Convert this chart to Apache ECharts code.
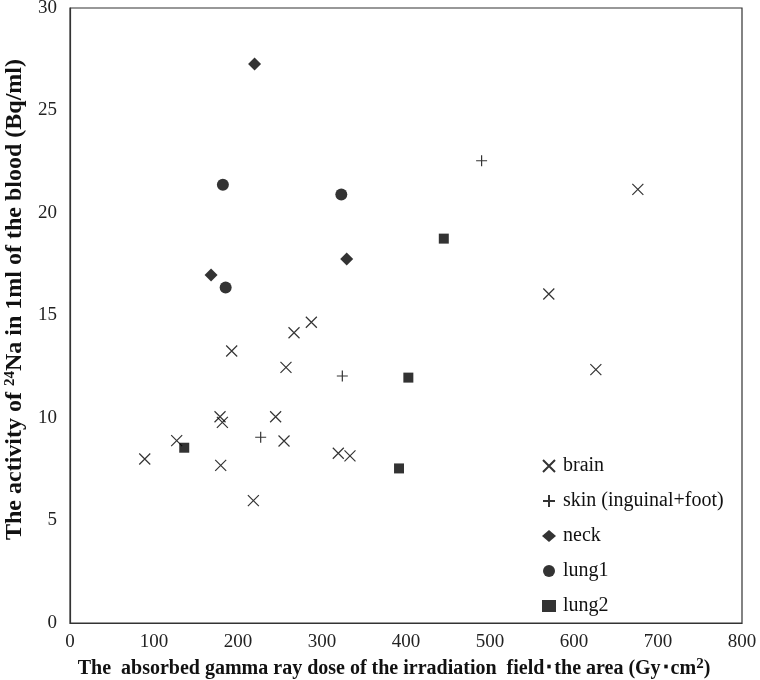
<!DOCTYPE html>
<html>
<head>
<meta charset="utf-8">
<script src="https://cdn.jsdelivr.net/npm/echarts@6/dist/echarts.min.js"></script>
<style>html,body{margin:0;padding:0;background:#fff}#c{width:760px;height:680px}</style>
</head>
<body>
<div id="c"></div>
<script>
var xTicks = [0, 100, 200, 300, 400, 500, 600, 700, 800];
var yTicks = [0, 5, 10, 15, 20, 25, 30];
var seriesNames = ['brain', 'skin (inguinal+foot)', 'neck', 'lung1', 'lung2'];
var brain = [[89,8.0],[127,8.9],[178.6,10.06],[181.4,9.79],[179.4,7.69],[218.3,5.97],[192.5,13.27],[244.8,10.06],[254.8,8.88],[257.1,12.47],[266.7,14.16],[287.3,14.67],[319.4,8.28],[333.3,8.15],[570,16.05],[626,12.36],[676,21.15]];
var skin = [[227,9.06],[324.2,12.05],[490,22.55]];
var neck = [[167.9,16.98],[219.7,27.27],[329.4,17.76]];
var lung1 = [[182,21.38],[185.3,16.37],[323,20.9]];
var lung2 = [[136,8.55],[402.8,11.97],[391.7,7.54],[445,18.75]];

var FONT = '"Liberation Serif", "Times New Roman", serif';
var chart = echarts.init(document.getElementById('c'), null, {renderer: 'canvas'});
var crossPath = 'path://M0,0L10,10M10,0L0,10';
var plusPath = 'path://M5,0L5,10M0,5L10,5';
function strokeStyle() { return {color: 'rgba(0,0,0,0)', borderColor: '#000', borderWidth: 1.2}; }
chart.setOption({
  animation: false,
  backgroundColor: '#fff',
  grid: {left: 70, right: 18, top: 8, bottom: 57, show: true, borderColor: '#333', borderWidth: 1.2, containLabel: false, outerBoundsMode: 'none'},
  legend: {
    orient: 'vertical', left: 537, top: 451, itemGap: 15, itemWidth: 14, itemHeight: 12,
    textStyle: {fontFamily: FONT, fontSize: 20, color: '#111', padding: [0, 0, 0, 2]},
    data: seriesNames
  },
  xAxis: {
    type: 'value', min: xTicks[0], max: xTicks[xTicks.length - 1], interval: 100,
    axisLine: {show: true, lineStyle: {color: '#333', width: 1.2}},
    axisTick: {show: false}, splitLine: {show: false},
    axisLabel: {fontFamily: FONT, fontSize: 19, color: '#222', margin: 10},
    name: 'The  absorbed gamma ray dose of the irradiation  field\uff65the area (Gy\uff65cm{sup|2})',
    nameLocation: 'middle', nameGap: 29,
    nameTextStyle: {fontFamily: FONT, fontSize: 20, fontWeight: 'bold', color: '#111', padding: [0, 24, 0, 0],
      rich: {sup: {fontFamily: FONT, fontSize: 15, fontWeight: 'bold', color: '#111', verticalAlign: 'top', padding: [0,0,8,0]}}}
  },
  yAxis: {
    type: 'value', min: yTicks[0], max: yTicks[yTicks.length - 1], interval: 5,
    axisLine: {show: true, lineStyle: {color: '#333', width: 1.2}},
    axisTick: {show: false}, splitLine: {show: false},
    axisLabel: {fontFamily: FONT, fontSize: 19, color: '#222', margin: 13},
    name: 'The activity of {sup|24}Na in 1ml of the blood (Bq/ml)',
    nameLocation: 'middle', nameGap: 42,
    nameTextStyle: {fontFamily: FONT, fontSize: 24, fontWeight: 'bold', color: '#111', padding: [0, 0, 0, 32],
      rich: {sup: {fontFamily: FONT, fontSize: 15, fontWeight: 'bold', color: '#111', verticalAlign: 'top', padding: [0,0,10,0]}}}
  },
  series: [
    {name: seriesNames[0], type: 'scatter', data: brain, symbol: crossPath, symbolSize: 11, itemStyle: strokeStyle()},
    {name: seriesNames[1], type: 'scatter', data: skin, symbol: plusPath, symbolSize: 11, itemStyle: strokeStyle()},
    {name: seriesNames[2], type: 'scatter', data: neck, symbol: 'diamond', symbolSize: [13, 13], itemStyle: {color: '#000'}},
    {name: seriesNames[3], type: 'scatter', data: lung1, symbol: 'circle', symbolSize: 12, itemStyle: {color: '#000'}},
    {name: seriesNames[4], type: 'scatter', data: lung2, symbol: 'rect', symbolSize: 10, itemStyle: {color: '#000'}}
  ]
});
</script>
</body>
</html>
